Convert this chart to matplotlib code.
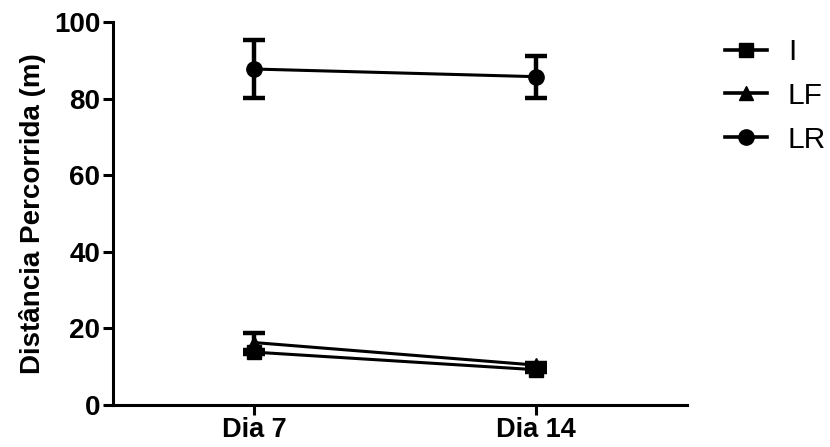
import matplotlib
matplotlib.use("Agg")
import matplotlib.pyplot as plt
from matplotlib.lines import Line2D

categories = ["Dia 7", "Dia 14"]
series_names = ["I", "LF", "LR"]
I_mean = [13.8, 9.2]
I_err = [0.6, 0.5]
LF_mean = [16.3, 10.4]
LF_err = [2.6, 0.5]
LR_mean = [87.7, 85.7]
LR_err = [7.5, 5.5]
y_ticks = [0, 20, 40, 60, 80, 100]

plt.rcParams['font.family'] = ['Liberation Sans', 'DejaVu Sans']

fig = plt.figure(figsize=(8.3, 4.47), dpi=100)
ax = fig.add_axes([0.136, 0.094, 0.692, 0.857])

x = list(range(len(categories)))
styles = [(I_mean, I_err, 's', 10), (LF_mean, LF_err, '^', 10), (LR_mean, LR_err, 'o', 11)]
handles = []
for name, (m, e, mk, ms) in zip(series_names, styles):
    ax.errorbar(x, m, yerr=e, color='black', marker=mk, markersize=ms,
                linewidth=2.2, elinewidth=3.2, capsize=8, capthick=3.2,
                clip_on=False)
    handles.append(Line2D([], [], color='black', marker=mk, markersize=ms,
                          linewidth=2.6, label=name))

ax.set_xlim(-0.5, 1.535)
ax.set_ylim(0, 100)
ax.set_yticks(y_ticks)
ax.set_xticks(x)
ax.set_xticklabels(categories, fontsize=19.5, fontweight='bold')
for t in ax.get_yticklabels():
    t.set_fontsize(20)
    t.set_fontweight('bold')
ax.set_ylabel("Distância Percorrida (m)", fontsize=20, fontweight='bold', labelpad=6)

for s in ['top', 'right']:
    ax.spines[s].set_visible(False)
for s in ['left', 'bottom']:
    ax.spines[s].set_linewidth(2.2)
ax.tick_params(axis='both', width=2.2, length=7, pad=2)

leg = ax.legend(handles=handles, loc='upper left', bbox_to_anchor=(1.066, 0.958), frameon=False,
                fontsize=21.5, handlelength=1.4, labelspacing=0.53, handletextpad=0.7,
                borderpad=0, borderaxespad=0)

fig.savefig("out.png", dpi=100)
